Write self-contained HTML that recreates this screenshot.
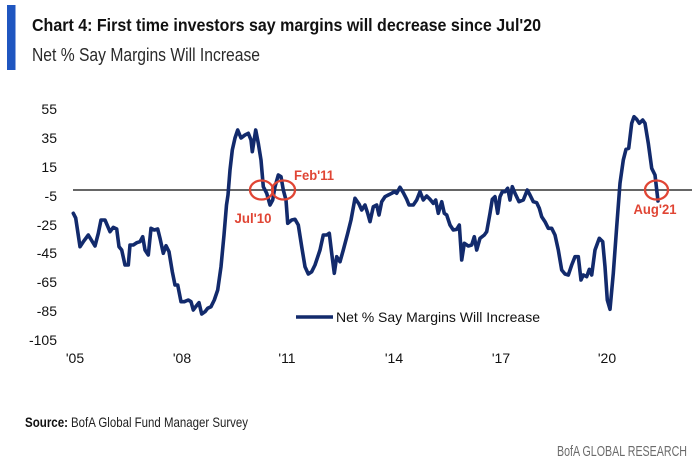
<!DOCTYPE html>
<html>
<head>
<meta charset="utf-8">
<style>
  html, body { margin: 0; padding: 0; background: #ffffff; }
  body { width: 700px; height: 470px; overflow: hidden; }
  svg { display: block; }
  .ax { font-family: "Liberation Sans", Arial, sans-serif; font-size: 14px; fill: #111; }
  .red { font-family: "Liberation Sans", Arial, sans-serif; font-size: 13.5px; font-weight: bold; fill: #e04534; }
</style>
</head>
<body>
<svg width="700" height="470" viewBox="0 0 700 470" xmlns="http://www.w3.org/2000/svg">
  <rect x="0" y="0" width="700" height="470" fill="#ffffff"/>
  <!-- blue bar -->
  <rect x="7" y="5" width="8.5" height="65" fill="#1f56c0"/>
  <!-- title -->
  <text x="32" y="31" font-family="Liberation Sans, Arial, sans-serif" font-size="17.5" font-weight="bold" fill="#111" textLength="509" lengthAdjust="spacingAndGlyphs">Chart 4: First time investors say margins will decrease since Jul'20</text>
  <text x="32" y="61" font-family="Liberation Sans, Arial, sans-serif" font-size="18" fill="#2a2a2a" textLength="228" lengthAdjust="spacingAndGlyphs">Net % Say Margins Will Increase</text>

  <!-- y axis labels -->
  <g class="ax" text-anchor="end">
    <text x="57" y="114">55</text>
    <text x="57" y="143">35</text>
    <text x="57" y="172">15</text>
    <text x="57" y="201">-5</text>
    <text x="57" y="230">-25</text>
    <text x="57" y="258">-45</text>
    <text x="57" y="287">-65</text>
    <text x="57" y="316">-85</text>
    <text x="57" y="345">-105</text>
  </g>
  <!-- x axis labels -->
  <g class="ax" text-anchor="middle">
    <text x="75" y="363">'05</text>
    <text x="182" y="363">'08</text>
    <text x="287" y="363">'11</text>
    <text x="394" y="363">'14</text>
    <text x="501" y="363">'17</text>
    <text x="607" y="363">'20</text>
  </g>

  <!-- zero line -->
  <line x1="73" y1="190" x2="692" y2="190" stroke="#333" stroke-width="1.5"/>

  <!-- series -->
  <polyline fill="none" stroke="#122a6c" stroke-width="3.6" stroke-linejoin="round" stroke-linecap="round"
    points="73.3,213.3 75.7,218 80,246.7 83.3,241.7 88.3,235 95,246 98.3,233.3 101,220 105,220 110,231.7 113.3,227.3 116.7,229 119,246.7 121.7,250 125,265 128.3,265 130,245 133.3,245 136.7,242.7 140,241.7 142.7,236.7 145,250 148.3,255 151,228.3 154.3,230 157.7,229 160,238.3 163.3,253.3 166,245.7 169,251.7 172.3,271.7 175,285 177.7,285 181,301.7 184.3,301.7 188.3,300 191,301.7 193.3,310 195.7,306.7 199,302.7 201.7,314 205,311.7 207.7,308.3 211,306.7 214.3,300 217.7,290 221,266.7 224,235 226.5,205 228,195 230,170 232.3,150 235,138 237.7,130 241,138 245,135 248.3,133.3 251,140 252.3,151.7 255.7,130 258.3,143.3 261,160 263.3,186.7 266.7,193.3 270,205 272.7,200 275,186.7 278.3,175 281,176.7 283.3,190 286,200 287.7,223.3 291.7,220 295,219.3 298.3,225 301.7,246.7 305,266.7 308.3,274 311.7,271.7 315,265 320,250 323.3,235 326.7,235 329.3,233.3 331.7,253.3 334.3,273.3 336.7,256.7 340,261.7 343.3,250 347.7,233.3 351,220 355,198.3 359,204 361.7,210 365,205 367.7,213.3 370,221.7 373.3,206.7 376.7,205 379,215 381.7,201.7 385,196.7 388.3,195 391.7,193.3 394.3,191.7 396.7,193.3 400,187.3 403.3,192.7 406.7,199.3 409,205 413.3,205 416.7,200 420,191.7 423.3,200 426.7,196 430,199.3 433.3,203.3 435.7,200 438.3,213.3 441.7,201.7 444.3,213.3 446.7,215 450,225 453.3,230 456.7,229.3 459.3,225 461.7,260 464.3,243.3 468.3,246 471.7,245 474.3,236.7 476.7,250 480,238.3 484.3,235 486.7,231.7 490,213.3 492.3,199.3 495,196.7 497.7,213.3 500,196.7 502.3,191.7 505,191.7 507.7,188.3 510,200 512.3,186.7 515,193.3 519,201.7 523.3,200 527.3,190 530,195 533.3,201.7 536.7,202.7 539.3,208.3 541.7,216.7 545,221.7 548.3,228.3 551.7,228.3 555,235 558.3,250 561.7,270 565,274 568.3,275 571.7,265 575,256.7 578.3,256.7 581,280 583.3,275 586.7,276.7 589.3,269.3 591.7,275 595,250 599.3,238.3 602.7,241.7 605,266.7 607.3,300 610,309.3 613.3,273.3 616.7,226.7 620,183.3 623.3,160 626,149.3 628.7,148.3 631.7,123.3 634,116.7 636.7,119.3 639.3,123.3 642.7,120 645,123.3 648.3,143.3 651.7,168.3 655,175 658,201"/>

  <!-- annotation circles -->
  <g fill="none" stroke="#e04534" stroke-width="2.3">
    <ellipse cx="261.5" cy="190" rx="11.5" ry="9.5"/>
    <ellipse cx="283.5" cy="190" rx="11.5" ry="9.5"/>
    <ellipse cx="656.5" cy="190" rx="11.5" ry="9.5"/>
  </g>
  <text class="red" x="234.5" y="223" textLength="37" lengthAdjust="spacingAndGlyphs">Jul'10</text>
  <text class="red" x="294" y="180" textLength="40" lengthAdjust="spacingAndGlyphs">Feb'11</text>
  <text class="red" x="633.5" y="214" textLength="43" lengthAdjust="spacingAndGlyphs">Aug'21</text>

  <!-- legend -->
  <line x1="296" y1="317" x2="333" y2="317" stroke="#122a6c" stroke-width="3.6"/>
  <text class="ax" x="336" y="322" fill="#222" textLength="204" lengthAdjust="spacingAndGlyphs">Net % Say Margins Will Increase</text>

  <!-- footer -->
  <text x="25" y="427" font-family="Liberation Sans, Arial, sans-serif" font-size="14" font-weight="bold" fill="#111" textLength="43" lengthAdjust="spacingAndGlyphs">Source:</text>
  <text x="71" y="427" font-family="Liberation Sans, Arial, sans-serif" font-size="14" fill="#222" textLength="177" lengthAdjust="spacingAndGlyphs">BofA Global Fund Manager Survey</text>
  <text x="557" y="456" font-family="Liberation Sans, Arial, sans-serif" font-size="14.5" fill="#6b6b6b" textLength="130" lengthAdjust="spacingAndGlyphs">BofA GLOBAL RESEARCH</text>
</svg>
</body>
</html>
